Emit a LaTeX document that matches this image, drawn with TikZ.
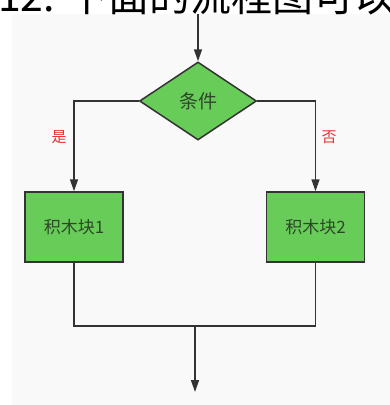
\documentclass[tikz,border=0pt]{standalone}
\usepackage{fontspec}
\newfontfamily\cjk{Noto Sans CJK SC}
\usetikzlibrary{shapes.geometric,arrows.meta}
\definecolor{bgcol}{RGB}{249,249,249}
\definecolor{fillg}{RGB}{104,204,88}
\definecolor{linec}{RGB}{51,51,51}
\definecolor{txtc}{RGB}{46,70,42}
\definecolor{labred}{RGB}{232,52,52}
\tikzset{
  conn/.style={draw=linec,line width=1.5pt},
  arr/.style={conn,-{Triangle[width=8pt,length=12pt]}},
  blockbox/.style={draw=linec,line width=1.5pt,fill=fillg,minimum width=98pt,minimum height=70pt,inner sep=0pt,font=\cjk\fontsize{17}{17}\selectfont,text=txtc},
  cond/.style={diamond,draw=linec,line width=1.5pt,fill=fillg,minimum width=117pt,minimum height=78pt,inner sep=0pt,font=\cjk\fontsize{19}{19}\selectfont,text=txtc},
  lab/.style={font=\cjk\fontsize{15}{15}\selectfont,text=labred,inner sep=0pt}
}
\begin{document}
\begin{tikzpicture}[x=1pt,y=-1pt]
\useasboundingbox (0,0) rectangle (390,405);
\clip (0,0) rectangle (390,405);
\fill[white] (0,0) rectangle (390,405);
\fill[bgcol] (12,14) rectangle (390,405);
\node[anchor=base west,inner sep=0pt,font=\cjk\fontsize{41}{41}\selectfont,text=black] (hdr) at (-2,11) {12. 下面的流程图可以用};
\coordinate (top) at (198,14);
\node[cond] (d) at (198,101) {条件};
\node[blockbox] (b1) at (74,227) {积木块1};
\node[blockbox] (b2) at (315.5,227) {积木块2};
\node[lab] (yes) at (59,137.5) {是};
\node[lab] (no) at (329,137.5) {否};
\coordinate (jl) at (74,326);
\coordinate (jm) at (195,326);
\coordinate (end) at (195,392);
\draw[arr] (top) -- (d.north);
\draw[arr] (d.west) -| (b1.north);
\draw[arr] (d.east) -| (b2.north);
\draw[conn] (b1.south) -- (jl) -| (b2.south);
\draw[arr] (jm) -- (end);
\end{tikzpicture}
\end{document}
